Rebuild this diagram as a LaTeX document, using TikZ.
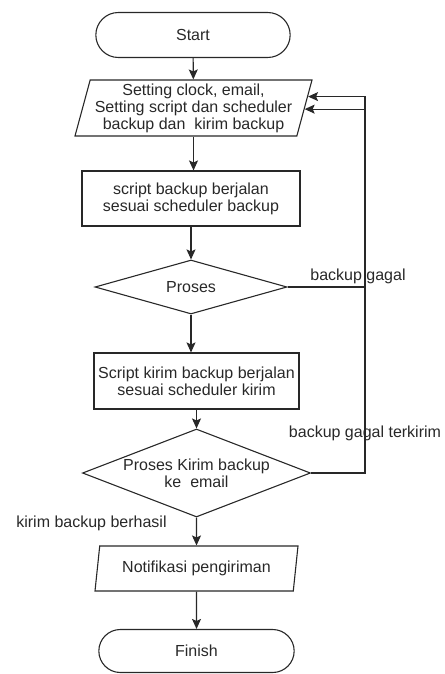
\documentclass[tikz,border=0pt]{standalone}
\usepackage{fontspec}
\setmainfont{Liberation Sans}
\usepackage{tikz}
\usetikzlibrary{arrows.meta,positioning,calc,shapes.geometric,shapes.misc}
\definecolor{flowink}{RGB}{40,40,40}
\tikzset{
  term/.style={draw=flowink, rounded rectangle, line width=1.1pt,
               minimum width=201pt, minimum height=45pt, align=center},
  io/.style={draw=flowink, trapezium, trapezium left angle=74, trapezium right angle=106,
             trapezium stretches body, line width=1.1pt, align=center, inner sep=2pt},
  proc/.style={draw=flowink, rectangle, line width=1.1pt, align=center, inner sep=3pt},
  dec/.style={draw=flowink, diamond, line width=1.1pt, align=center, inner sep=0pt},
  lbl/.style={font=\fontsize{16}{17}\selectfont, text=flowink, inner sep=0pt},
  ar/.style={-{Stealth[length=10pt,width=9pt,inset=2pt]}, draw=flowink, line width=1.1pt},
  ln/.style={draw=flowink, line width=1.1pt},
}

\begin{document}
\begin{tikzpicture}[x=1pt, y=-1pt, font=\fontsize{16}{17}\selectfont, text=flowink]
\useasboundingbox (0,0) rectangle (444,674);

\node[term] (start) at (193,35) {Start};
\node[io, minimum width=237pt, minimum height=56pt] (setup) at (193.5,108)
  {Setting clock, email,\\Setting script dan scheduler\\backup dan\ \ kirim backup};
\node[proc, minimum width=218pt, minimum height=55pt] (bkp) at (191,198.5)
  {script backup berjalan\\sesuai scheduler backup};
\node[dec, aspect=3.5, minimum width=192pt, minimum height=54pt] (proses) at (191,287) {Proses};
\node[proc, minimum width=205pt, minimum height=56pt] (kirim) at (196.5,381)
  {Script kirim backup berjalan\\sesuai scheduler kirim};
\node[dec, aspect=2.6, minimum width=228pt, minimum height=88pt] (cek) at (196.5,473)
  {Proses Kirim backup\\ke\ \ email};
\node[io, trapezium left angle=76, trapezium right angle=104,
      minimum width=203pt, minimum height=45pt] (notif) at (196.5,568.5) {Notifikasi pengiriman};
\node[term, minimum width=202pt, minimum height=43pt] (finish) at (196.5,651) {Finish};

% labels
\node[lbl] (gagal) at (358,276) {backup gagal};
\node[lbl] (gagalkirim) at (365,433) {backup gagal terkirim};
\node[lbl] (berhasil) at (91.5,523) {kirim backup berhasil};

% feedback rail
\coordinate (rail) at (365,0);
\coordinate (inA) at ($(setup.top right corner)!0.30!(setup.bottom right corner)$);
\coordinate (inB) at ($(setup.top right corner)!0.52!(setup.bottom right corner)$);

\draw[ar] (start) -- (setup);
\draw[ar] (setup.south) -- (setup.south |- bkp.north);
\draw[ar] (bkp) -- (proses);
\draw[ar] (proses.south) -- (proses.south |- kirim.north);
\draw[ar] (kirim) -- (cek);
\draw[ar] (cek) -- (notif);
\draw[ar] (notif) -- (finish);
\draw[ar] (cek.east) -- (cek.east -| rail) -- (rail |- inA) -- (inA);
\draw[ar] (proses.east) -- (proses.east -| rail) -- (rail |- inB) -- (inB);
\end{tikzpicture}
\end{document}
